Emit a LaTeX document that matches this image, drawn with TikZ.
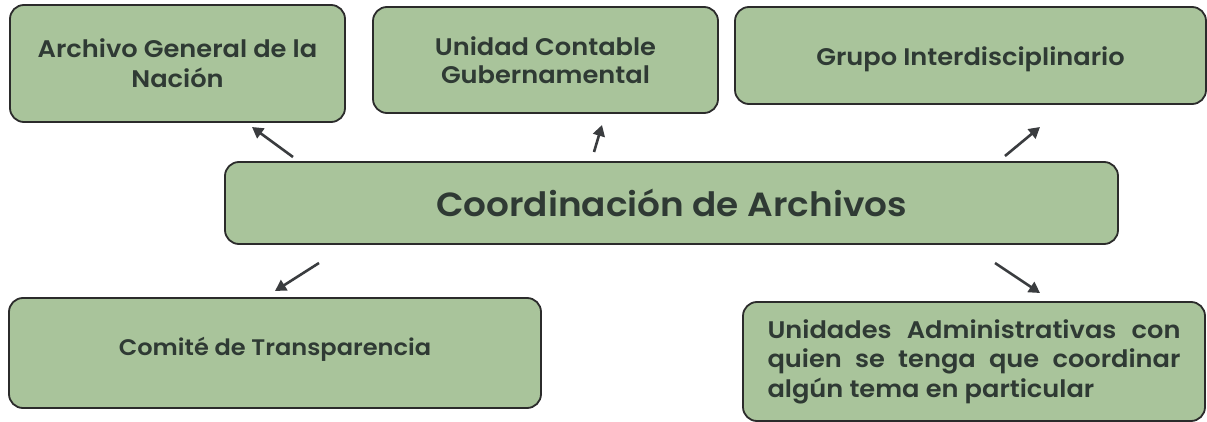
\documentclass[tikz,border=0pt]{standalone}
\usepackage{fontspec}
\setmainfont{Poppins}[BoldFont={Poppins SemiBold},BoldFeatures={FakeStretch=1.07}]
\usetikzlibrary{arrows.meta}
\definecolor{boxfill}{HTML}{A9C49B}
\definecolor{boxline}{HTML}{2B2B2B}
\definecolor{txt}{HTML}{2F3A34}
\definecolor{arr}{HTML}{3A3C3F}
\begin{document}
\begin{tikzpicture}[x=1pt,y=-1pt,
  box/.style={draw=boxline, line width=1.8pt, fill=boxfill, rounded corners=14pt,
              rectangle, inner sep=0pt, text=txt, align=center},
  small/.style={font=\bfseries\fontsize{24}{30}\selectfont},
  arrowline/.style={draw=arr, line width=2.6pt, -{Triangle[length=11pt,width=12pt]}}]
\useasboundingbox (0,0) rectangle (1207,422);
\fill[white] (0,0) rectangle (1207,422);

\node[box, small, minimum width=335pt, minimum height=117pt] (agn) at (177.5,63.5)
  {Archivo General de la\\Nación};
\node[box, font=\bfseries\fontsize{24}{28}\selectfont, minimum width=345pt, minimum height=106pt] (ucg) at (545.5,60)
  {Unidad Contable\\Gubernamental};
\node[box, small, text height=24pt, text depth=3pt, minimum width=471pt, minimum height=97pt] (gi) at (970.5,55.5)
  {Grupo Interdisciplinario};
\node[box, font=\bfseries\fontsize{33.5}{40}\selectfont, text height=28pt, text depth=0pt, minimum width=893pt, minimum height=82pt] (ca) at (671.5,203)
  {Coordinación de Archivos};
\node[box, font=\bfseries\fontsize{22.5}{28}\selectfont, text height=12pt, text depth=8pt, minimum width=532pt, minimum height=110pt] (ct) at (275,353)
  {Comité de Transparencia};
\node[box, font=\bfseries\fontsize{24}{29.5}\selectfont, minimum width=462pt, minimum height=119pt] (ua) at (974,361.5)
  {\parbox{413pt}{\makebox[413pt][s]{Unidades Administrativas con}\\
   \makebox[413pt][s]{quien se tenga que coordinar}\\
   algún tema en particular}};

\coordinate (a1) at (293,157); \coordinate (a2) at (252,127);
\coordinate (b1) at (594,152); \coordinate (b2) at (602,125);
\coordinate (c1) at (1005,156); \coordinate (c2) at (1040,127);
\coordinate (d1) at (319,263); \coordinate (d2) at (275,291);
\coordinate (e1) at (995,263); \coordinate (e2) at (1040,293);
\draw[arrowline] (a1) -- (a2);
\draw[arrowline] (b1) -- (b2);
\draw[arrowline] (c1) -- (c2);
\draw[arrowline] (d1) -- (d2);
\draw[arrowline] (e1) -- (e2);
\end{tikzpicture}
\end{document}
